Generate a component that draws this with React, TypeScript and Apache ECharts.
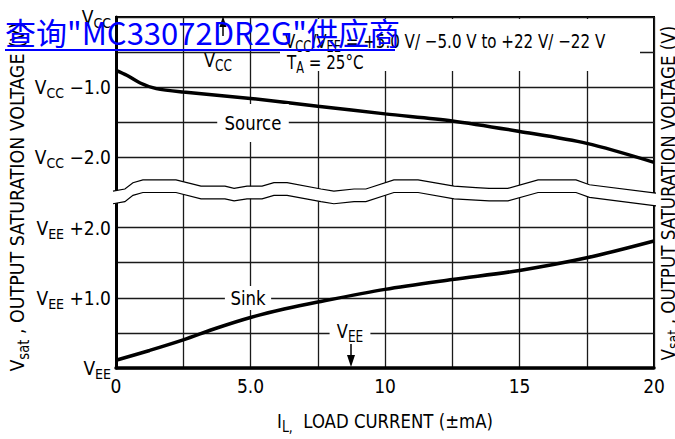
import React, { useEffect, useRef } from "react";
import * as echarts from "echarts";

const FONT = '"Liberation Sans Narrow", "Arial Narrow", "DejaVu Sans Condensed", sans-serif';

// X axis: load current (mA)
const xTickValues = [0, 5, 10, 15, 20];
const xTickLabels = ["0", "5.0", "10", "15", "20"];

// Y axis in plot units: VEE = 0 ... VCC = 5 (broken axis between 2 and 3)
const yTickValues = [0, 1, 2, 3, 4, 5];
const yTickSupply = ["EE", "EE", "EE", "CC", "CC", "CC"];
const yTickOffset = ["", " +1.0", " +2.0", " \u22122.0", " \u22121.0", ""];

// Source curve (VCC side)
const sourceCurrent = [0, 0.4, 0.9, 1.5, 2.5, 5, 7.5, 10, 12.5, 15, 17.5, 20];
const sourceLevel = [4.24, 4.17, 4.06, 3.98, 3.93, 3.84, 3.73, 3.62, 3.52, 3.37, 3.2, 2.93];

// Sink curve (VEE side)
const sinkCurrent = [0, 1.25, 2.5, 3.75, 5, 6.25, 7.5, 10, 12.5, 15, 17.5, 20];
const sinkLevel = [0.11, 0.25, 0.4, 0.57, 0.72, 0.84, 0.94, 1.12, 1.26, 1.39, 1.57, 1.81];

// Axis break (wavy band)
const breakCurrent = [0, 0.33, 0.63, 1.0, 2.23, 3.16, 4.05, 4.39, 4.87, 5.43, 5.87, 6.36, 7.62, 8.1, 8.85, 9.29, 10.33, 11.23, 12.57, 13.38, 13.87, 14.57, 15.69, 17.1, 17.6, 20];
const breakUpper = [2.52, 2.55, 2.64, 2.68, 2.68, 2.59, 2.59, 2.56, 2.59, 2.59, 2.64, 2.64, 2.55, 2.52, 2.55, 2.55, 2.68, 2.68, 2.59, 2.57, 2.56, 2.56, 2.68, 2.68, 2.61, 2.49];
const BREAK_GAP = 0.18;

const richLabel = {
  v: { fontSize: 19, fontFamily: FONT, color: "#000", fill: "#000" },
  s: { fontSize: 14, fontFamily: FONT, color: "#000", fill: "#000", padding: [12, 0, 0, 0] },
};
const richGraphic = {
  v: { fontSize: 20, fontFamily: FONT, fill: "#000" },
  s: { fontSize: 15, fontFamily: FONT, fill: "#000", padding: [12, 0, 0, 0] },
};

export default function App() {
  const ref = useRef<HTMLDivElement>(null);
  useEffect(() => {
    document.body.style.margin = "0";
    const chart = echarts.init(ref.current!, null, { renderer: "svg" });
    const splitColors = Array.from({ length: 11 }, (_, i) => (i === 5 ? "rgba(0,0,0,0)" : "#1a1a1a"));
    const option: any = {
      animation: false,
      backgroundColor: "#fff",
      grid: { left: 116, right: 21, top: 17, bottom: 71, show: true, borderColor: "#000", borderWidth: 2, backgroundColor: "transparent" },
      xAxis: {
        type: "value", min: 0, max: 20, interval: 2.5,
        axisLine: { show: true, lineStyle: { color: "#000", width: 3.5 } },
        axisTick: { show: false },
        splitLine: { show: true, lineStyle: { color: "#1a1a1a", width: 1.3 } },
        axisLabel: {
          margin: 8, fontSize: 19, fontFamily: FONT, color: "#000",
          formatter: (v: number) => { const i = xTickValues.indexOf(v); return i < 0 ? "" : xTickLabels[i]; },
        },
      },
      yAxis: {
        type: "value", min: 0, max: 5, interval: 0.5,
        axisLine: { show: true, lineStyle: { color: "#000", width: 3 } },
        axisTick: { show: false },
        splitLine: { show: true, lineStyle: { color: splitColors, width: 1.3 } },
        axisLabel: {
          margin: 5, rich: richLabel,
          formatter: (v: number) => {
            const i = yTickValues.indexOf(v);
            if (i < 0) return "";
            return "{v|V}{s|" + yTickSupply[i] + "}" + (yTickOffset[i] ? "{v|" + yTickOffset[i] + "}" : "");
          },
        },
      },
      series: [
        {
          type: "line", name: "Source", data: sourceCurrent.map((x, i) => [x, sourceLevel[i]]),
          symbol: "none", smooth: 0.3, lineStyle: { color: "#000", width: 3.5 }, z: 3,
        },
        {
          type: "line", name: "Sink", data: sinkCurrent.map((x, i) => [x, sinkLevel[i]]),
          symbol: "none", smooth: 0.3, lineStyle: { color: "#000", width: 3.5 }, z: 3,
        },
        {
          type: "custom", name: "break", silent: true, clip: false, z: 5,
          data: [[0, 2.5]],
          encode: { x: 0, y: 1 },
          renderItem: (params: any, api: any) => {
            if (params.dataIndex !== 0) return null;
            const up = breakCurrent.map((x, i) => api.coord([x, breakUpper[i]]));
            const lo = breakCurrent.map((x, i) => api.coord([x, breakUpper[i] - BREAK_GAP]));
            const n = up.length - 1;
            up[0] = [up[0][0] - 3, up[0][1]];
            lo[0] = [lo[0][0] - 3, lo[0][1]];
            up[n] = [up[n][0] + 2, up[n][1]];
            lo[n] = [lo[n][0] + 2, lo[n][1]];
            return {
              type: "group",
              children: [
                { type: "polygon", shape: { points: up.concat(lo.slice().reverse()) }, style: { fill: "#fff", stroke: null } },
                { type: "polyline", shape: { points: up }, style: { stroke: "#000", lineWidth: 1.2, fill: null } },
                { type: "polyline", shape: { points: lo }, style: { stroke: "#000", lineWidth: 1.2, fill: null } },
              ],
            };
          },
        },
      ],
      graphic: [
        { type: "rect", z: 50, shape: { x: 280, y: 19, width: 360, height: 52 }, style: { fill: "#fff" } },
        { type: "text", z: 51, x: 285, y: 41, scaleX: 0.84, style: { text: "{v|V}{s|CC}{v|/V}{s|EE}{v| = +5.0 V/ \u22125.0 V to +22 V/ \u221222 V}", rich: richGraphic, verticalAlign: "middle" } },
        { type: "text", z: 51, x: 287, y: 62, scaleX: 0.84, style: { text: "{v|T}{s|A}{v| = 25\u00b0C}", rich: richGraphic, verticalAlign: "middle" } },
        { type: "text", z: 51, x: 218, y: 60, scaleX: 0.9, style: { text: "{v|V}{s|CC}", rich: richGraphic, align: "center", verticalAlign: "middle" } },
        { type: "line", z: 51, shape: { x1: 223, y1: 36, x2: 223, y2: 24 }, style: { stroke: "#000", lineWidth: 1.5 } },
        { type: "polygon", z: 51, shape: { points: [[223, 16], [219.5, 27], [226.5, 27]] }, style: { fill: "#000" } },
        { type: "text", z: 51, x: 253, y: 123, scaleX: 0.92, style: { text: "Source", fontSize: 20, fontFamily: FONT, fill: "#000", align: "center", verticalAlign: "middle", backgroundColor: "#fff", padding: [9, 8] } },
        { type: "text", z: 51, x: 248, y: 298, scaleX: 0.92, style: { text: "Sink", fontSize: 20, fontFamily: FONT, fill: "#000", align: "center", verticalAlign: "middle", backgroundColor: "#fff", padding: [2, 6] } },
        { type: "text", z: 51, x: 350, y: 331, scaleX: 0.9, style: { text: "{v|V}{s|EE}", rich: richGraphic, align: "center", verticalAlign: "middle", backgroundColor: "#fff", padding: [2, 8] } },
        { type: "line", z: 51, shape: { x1: 351, y1: 344, x2: 351, y2: 358 }, style: { stroke: "#000", lineWidth: 1.5 } },
        { type: "polygon", z: 51, shape: { points: [[351, 367], [347, 355], [355, 355]] }, style: { fill: "#000" } },
        { type: "text", z: 51, x: 17, y: 197, rotation: Math.PI / 2, scaleX: 0.97, style: { text: "{v|V}{s|sat}{v| , OUTPUT SATURATION VOLTAGE (V)}", rich: richGraphic, align: "center", verticalAlign: "middle" } },
        { type: "text", z: 51, x: 668, y: 193, rotation: Math.PI / 2, scaleX: 0.93, style: { text: "{v|V}{s|sat}{v| , OUTPUT SATURATION VOLTAGE (V)}", rich: richGraphic, align: "center", verticalAlign: "middle" } },
        { type: "text", z: 51, x: 385, y: 421, scaleX: 0.92, style: { text: "{v|I}{s|L,}{v|  LOAD CURRENT (\u00b1mA)}", rich: richGraphic, align: "center", verticalAlign: "middle" } },
        { type: "text", z: 60, x: 5, y: 31, style: { text: "\u67e5\u8be2\"MC33072DR2G\"\u4f9b\u5e94\u5546", fontSize: 31, fontFamily: '"Noto Sans CJK SC", "Noto Sans", sans-serif', fill: "#0000ff", verticalAlign: "middle" } },
        { type: "line", z: 60, shape: { x1: 5, y1: 50, x2: 395, y2: 50 }, style: { stroke: "#0000ff", lineWidth: 2 } },
      ],
    };
    chart.setOption(option);
    return () => chart.dispose();
  }, []);
  return <div ref={ref} style={{ width: 675, height: 439 }} />;
}
